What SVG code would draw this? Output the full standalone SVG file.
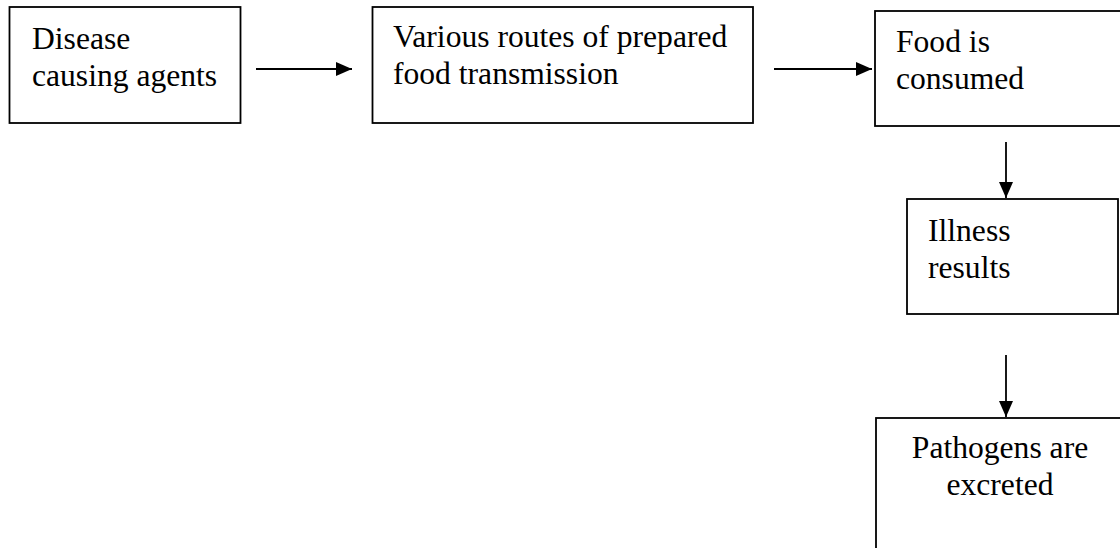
<svg xmlns="http://www.w3.org/2000/svg" width="1120" height="548" viewBox="0 0 1120 548">
<style>
.box{fill:#fff;stroke:#000;stroke-width:1.8}
.t{font-family:"Liberation Serif","Times New Roman",serif;font-size:31.6px;fill:#000}
.c{fill:none;stroke:#000;stroke-width:1.8}
</style>
<defs>
<marker id="ah" markerUnits="userSpaceOnUse" markerWidth="16" markerHeight="14" refX="16" refY="7" orient="auto">
<path d="M0,0 L16,7 L0,14 Z" fill="#000"/>
</marker>
</defs>
<rect width="1120" height="548" fill="#fff"/>
<g id="n1">
<rect class="box" x="9.5" y="7" width="231" height="116"/>
<text class="t" x="32" y="49">Disease</text>
<text class="t" x="32" y="86">causing agents</text>
</g>
<g id="n2">
<rect class="box" x="372.5" y="7" width="380.5" height="116"/>
<text class="t" x="393" y="47">Various routes of prepared</text>
<text class="t" x="393" y="84">food transmission</text>
</g>
<g id="n3">
<rect class="box" x="875" y="11" width="260" height="115"/>
<text class="t" x="896" y="52">Food is</text>
<text class="t" x="896" y="89">consumed</text>
</g>
<g id="n4">
<rect class="box" x="907" y="199" width="211" height="115"/>
<text class="t" x="928" y="241">Illness</text>
<text class="t" x="928" y="278">results</text>
</g>
<g id="n5">
<rect class="box" x="876" y="418" width="260" height="150"/>
<text class="t" x="1000" y="458" text-anchor="middle">Pathogens are</text>
<text class="t" x="1000" y="495" text-anchor="middle">excreted</text>
</g>
<g id="connectors">
<line class="c" x1="256" y1="69" x2="352" y2="69" marker-end="url(#ah)"/>
<line class="c" x1="774" y1="69" x2="872" y2="69" marker-end="url(#ah)"/>
<line class="c" x1="1006" y1="142" x2="1006" y2="198" marker-end="url(#ah)"/>
<line class="c" x1="1006" y1="355" x2="1006" y2="417" marker-end="url(#ah)"/>
</g>
</svg>
